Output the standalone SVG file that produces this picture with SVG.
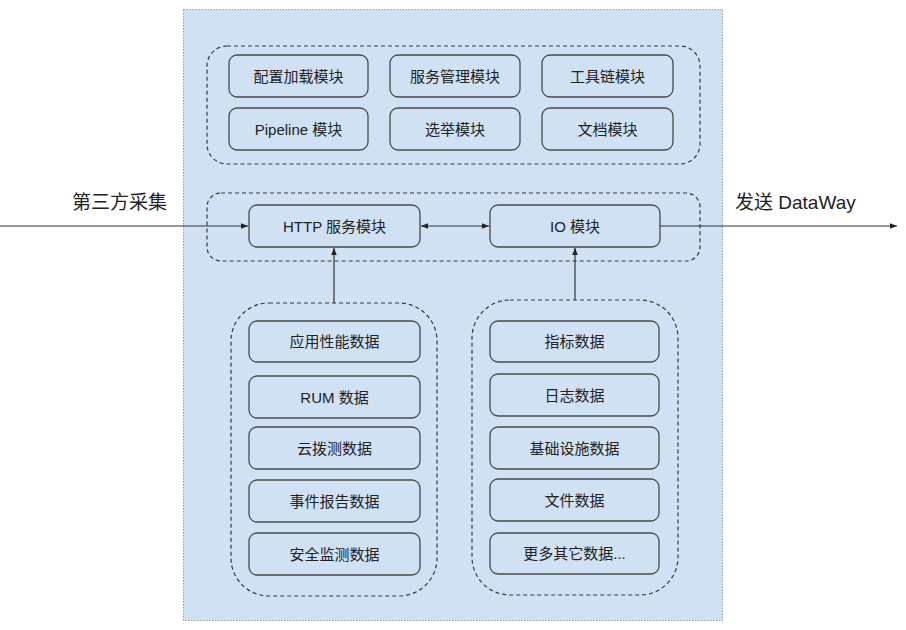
<svg xmlns="http://www.w3.org/2000/svg" width="906" height="630" viewBox="0 0 906 630">
<style>
.bg{fill:#cfe1f2;stroke:#9a9a9a;stroke-width:1;stroke-dasharray:1.5 1.5}
.grp{fill:none;stroke:#3a3a3a;stroke-width:1.2;stroke-dasharray:4 3}
.box{fill:#cfe1f2;stroke:#4a4a4a;stroke-width:1.3}
.t{font-family:"Liberation Sans","Noto Sans CJK SC",sans-serif;font-size:15px;fill:#222;text-anchor:middle;dominant-baseline:central}
.lbl{font-family:"Liberation Sans","Noto Sans CJK SC",sans-serif;font-size:19px;fill:#222}
.ln{stroke:#333;stroke-width:1.2;fill:none}
</style>
<defs>
<marker id="ah" viewBox="0 0 10 10" refX="10" refY="5" markerWidth="7" markerHeight="7" orient="auto-start-reverse" markerUnits="userSpaceOnUse">
<path d="M0,1 L10,5 L0,9 Z" fill="#222"/>
</marker>
</defs>
<rect class="bg" x="183.5" y="9.5" width="539" height="611"/>
<rect class="grp" x="207" y="46" width="493" height="118" rx="20"/>
<rect class="grp" x="207" y="193" width="493" height="68" rx="14"/>
<rect class="grp" x="231" y="303" width="206" height="293" rx="38"/>
<rect class="grp" x="472" y="300" width="206" height="295" rx="38"/>
<g id="connectors">
<line class="ln" x1="0" y1="226" x2="248" y2="226" marker-end="url(#ah)"/>
<line class="ln" x1="421" y1="226" x2="489" y2="226" marker-start="url(#ah)" marker-end="url(#ah)"/>
<line class="ln" x1="660" y1="226" x2="897" y2="226" marker-end="url(#ah)"/>
<line class="ln" x1="334" y1="303" x2="334" y2="248" marker-end="url(#ah)"/>
<line class="ln" x1="575" y1="300" x2="575" y2="248" marker-end="url(#ah)"/>
</g>
<text class="lbl" x="167" y="209" text-anchor="end">第三方采集</text>
<text class="lbl" x="735" y="209">发送 DataWay</text>
<g id="n1"><rect class="box" x="229" y="55" width="139" height="42" rx="8"/><text class="t" x="298.5" y="76">配置加载模块</text></g>
<g id="n2"><rect class="box" x="390" y="55" width="130" height="42" rx="8"/><text class="t" x="455" y="76">服务管理模块</text></g>
<g id="n3"><rect class="box" x="542" y="55" width="131" height="42" rx="8"/><text class="t" x="607.5" y="76">工具链模块</text></g>
<g id="n4"><rect class="box" x="229" y="108" width="139" height="42" rx="8"/><text class="t" x="298.5" y="129">Pipeline 模块</text></g>
<g id="n5"><rect class="box" x="390" y="108" width="130" height="42" rx="8"/><text class="t" x="455" y="129">选举模块</text></g>
<g id="n6"><rect class="box" x="542" y="108" width="131" height="42" rx="8"/><text class="t" x="607.5" y="129">文档模块</text></g>
<g id="http"><rect class="box" x="249" y="205" width="171" height="42" rx="8"/><text class="t" x="334.5" y="226">HTTP 服务模块</text></g>
<g id="io"><rect class="box" x="490" y="205" width="170" height="42" rx="8"/><text class="t" x="575" y="226">IO 模块</text></g>
<g id="l1"><rect class="box" x="249" y="321" width="171" height="41" rx="8"/><text class="t" x="334.5" y="341.5">应用性能数据</text></g>
<g id="l2"><rect class="box" x="249" y="376" width="171" height="42" rx="8"/><text class="t" x="334.5" y="397">RUM 数据</text></g>
<g id="l3"><rect class="box" x="249" y="427" width="171" height="42" rx="8"/><text class="t" x="334.5" y="448">云拨测数据</text></g>
<g id="l4"><rect class="box" x="249" y="480" width="171" height="42" rx="8"/><text class="t" x="334.5" y="501">事件报告数据</text></g>
<g id="l5"><rect class="box" x="249" y="533" width="171" height="42" rx="8"/><text class="t" x="334.5" y="554">安全监测数据</text></g>
<g id="r1"><rect class="box" x="490" y="321" width="169" height="41" rx="8"/><text class="t" x="574.5" y="341.5">指标数据</text></g>
<g id="r2"><rect class="box" x="490" y="374" width="169" height="42" rx="8"/><text class="t" x="574.5" y="395">日志数据</text></g>
<g id="r3"><rect class="box" x="490" y="427" width="169" height="42" rx="8"/><text class="t" x="574.5" y="448">基础设施数据</text></g>
<g id="r4"><rect class="box" x="490" y="479" width="169" height="42" rx="8"/><text class="t" x="574.5" y="500">文件数据</text></g>
<g id="r5"><rect class="box" x="490" y="533" width="169" height="41" rx="8"/><text class="t" x="574.5" y="553.5">更多其它数据...</text></g>
</svg>
